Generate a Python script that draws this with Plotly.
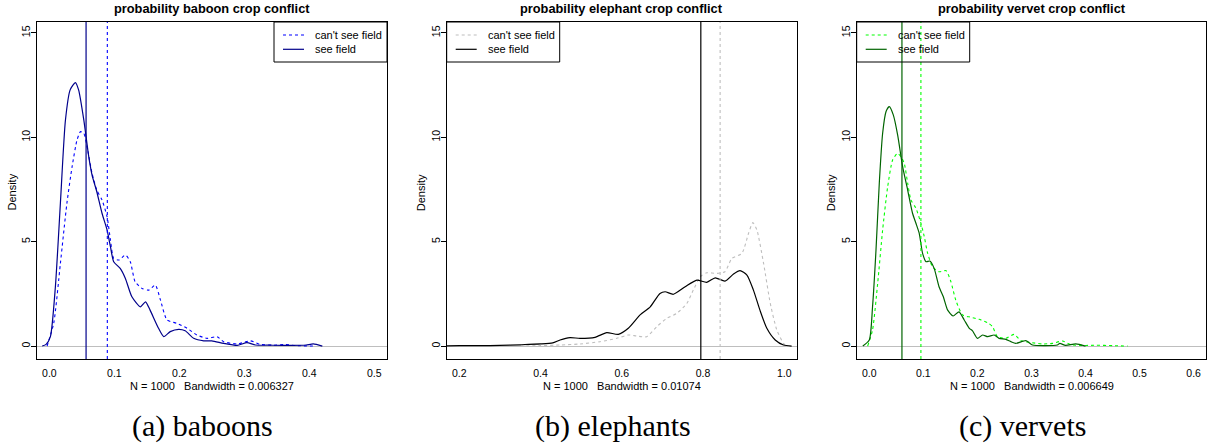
import plotly.graph_objects as go

W, H = 1207, 446

# ---------------- data ----------------
titles = ["probability baboon crop conflict",
          "probability elephant crop conflict",
          "probability vervet crop conflict"]
bandwidth_notes = ["N = 1000\u00a0\u00a0\u00a0Bandwidth = 0.006327",
                   "N = 1000\u00a0\u00a0\u00a0Bandwidth = 0.01074",
                   "N = 1000\u00a0\u00a0\u00a0Bandwidth = 0.006649"]
captions = ["(a) baboons", "(b) elephants", "(c) vervets"]
legend_labels = ["can't see field", "see field"]

baboon_see_x = [-0.011, -0.005, 0.0016, 0.0093, 0.017, 0.0247, 0.032, 0.040, 0.045, 0.053, 0.0606,
                0.0657, 0.073, 0.081, 0.0888, 0.094, 0.099, 0.109, 0.117, 0.127, 0.140, 0.148,
                0.155, 0.168, 0.176, 0.186, 0.199, 0.209, 0.222, 0.2375, 0.25, 0.268, 0.289,
                0.304, 0.317, 0.34, 0.37, 0.395, 0.406, 0.42]
baboon_see_y = [0, 0.08, 0.45, 2.84, 6.85, 10.8, 12.27, 12.62, 12.27, 10.83, 9.07,
                8.19, 7.39, 6.36, 5.56, 4.76, 4.04, 3.72, 3.24, 2.36, 1.88, 2.12,
                1.72, 0.85, 0.45, 0.69, 0.80, 0.73, 0.37, 0.25, 0.25, 0.13, 0.03,
                0.16, 0.05, 0.04, 0.03, 0.05, 0.1, 0.0]
baboon_cant_x = [-0.0035, 0.0067, 0.017, 0.027, 0.035, 0.0426, 0.048, 0.053, 0.058, 0.0657,
                 0.073, 0.081, 0.0888, 0.094, 0.099, 0.107, 0.117, 0.1245, 0.132, 0.1426,
                 0.153, 0.163, 0.171, 0.181, 0.196, 0.212, 0.227, 0.2426, 0.258, 0.268,
                 0.289, 0.309, 0.324, 0.345, 0.3625, 0.38, 0.41]
baboon_cant_y = [0, 1.09, 3.96, 6.84, 8.59, 9.87, 10.27, 10.19, 9.55, 8.27,
                 7.47, 7.0, 6.2, 5.08, 4.2, 4.12, 4.36, 4.04, 3.08, 2.76,
                 2.68, 2.92, 2.2, 1.25, 1.09, 0.85, 0.53, 0.37, 0.45, 0.21,
                 0.1, 0.25, 0.08, 0.04, 0.07, 0.02, 0.0]

elephant_see_x = [0.169, 0.2, 0.25, 0.3, 0.35, 0.4, 0.43, 0.448, 0.4725, 0.497, 0.534, 0.563,
                  0.5916, 0.616, 0.645, 0.67, 0.694, 0.7066, 0.727, 0.756, 0.7847, 0.809,
                  0.83, 0.854, 0.875, 0.891, 0.908, 0.924, 0.94, 0.957, 0.9776, 0.998, 1.018]
elephant_see_y = [0.01, 0.02, 0.02, 0.03, 0.06, 0.1, 0.15, 0.29, 0.40, 0.37, 0.42, 0.64,
                  0.56, 0.85, 1.49, 1.88, 2.52, 2.6, 2.48, 2.84, 3.16, 3.05,
                  3.27, 3.11, 3.45, 3.61, 3.4, 2.68, 1.72, 0.85, 0.29, 0.05, 0.0]
elephant_cant_x = [0.35, 0.4, 0.448, 0.497, 0.5466, 0.5877, 0.616, 0.637, 0.661, 0.686, 0.711,
                   0.7355, 0.760, 0.776, 0.793, 0.809, 0.834, 0.854, 0.871, 0.8956, 0.912,
                   0.9226, 0.9325, 0.949, 0.9655, 0.9816, 0.998, 1.006]
elephant_cant_y = [0, 0.02, 0.05, 0.1, 0.21, 0.37, 0.53, 0.48, 0.45, 0.93, 1.33,
                   1.57, 2.04, 2.68, 3.32, 3.51, 3.48, 3.56, 4.2, 4.44, 5.4,
                   5.91, 5.56, 3.96, 2.04, 0.77, 0.13, 0.0]

vervet_see_x = [-0.012, 0, 0.006, 0.0124, 0.0185, 0.0247, 0.031, 0.037, 0.0444, 0.0525, 0.0617,
                0.071, 0.080, 0.0863, 0.0924, 0.0986, 0.105, 0.112, 0.120, 0.129, 0.137, 0.145,
                0.155, 0.166, 0.1756, 0.185, 0.191, 0.2, 0.2096, 0.219, 0.231, 0.240, 0.2527,
                0.262, 0.271, 0.2897, 0.302, 0.323, 0.348, 0.3525, 0.363, 0.382, 0.4]
vervet_see_y = [0, 0.29, 1.88, 4.6, 7.8, 10.19, 11.23, 11.47, 11.07, 10.1, 8.59,
                7.47, 6.36, 5.88, 5.4, 4.44, 4.04, 4.07, 3.72, 2.84, 2.36, 1.72,
                1.44, 1.64, 1.25, 0.85, 0.73, 0.37, 0.53, 0.45, 0.53, 0.37, 0.32,
                0.21, 0.13, 0.26, 0.05, 0.02, 0.05, 0.13, 0.03, 0.1, 0.0]
vervet_cant_x = [-0.003, 0.006, 0.0155, 0.0247, 0.034, 0.0432, 0.0525, 0.0586, 0.0647, 0.071,
                 0.077, 0.0863, 0.0955, 0.1017, 0.108, 0.117, 0.129, 0.142, 0.151, 0.160,
                 0.1726, 0.188, 0.203, 0.219, 0.228, 0.237, 0.2527, 0.268, 0.2805, 0.296,
                 0.321, 0.339, 0.3575, 0.373, 0.40, 0.42, 0.45, 0.478]
vervet_cant_y = [0, 0.77, 3.0, 5.56, 7.63, 8.91, 9.23, 9.07, 8.75, 7.8,
                 7.0, 6.6, 5.88, 5.24, 4.44, 3.8, 3.56, 3.61, 3.08, 2.2,
                 1.49, 1.38, 1.28, 1.12, 0.93, 0.45, 0.37, 0.56, 0.26, 0.18,
                 0.10, 0.13, 0.24, 0.06, 0.03, 0.04, 0.02, 0.0]

# vertical reference lines (see field, can't see field)
vline_see = [0.0565, 0.7945, 0.0604]
vline_cant = [0.0892, 0.842, 0.0955]

x_ticks = [[0.0, 0.1, 0.2, 0.3, 0.4, 0.5],
           [0.2, 0.4, 0.6, 0.8, 1.0],
           [0.0, 0.1, 0.2, 0.3, 0.4, 0.5, 0.6]]
x_tick_text = [["0.0", "0.1", "0.2", "0.3", "0.4", "0.5"],
               ["0.2", "0.4", "0.6", "0.8", "1.0"],
               ["0.0", "0.1", "0.2", "0.3", "0.4", "0.5", "0.6"]]
y_ticks = [0, 5, 10, 15]

# ---------------- styles ----------------
col_see = ["#00008B", "#000000", "#006400"]
col_cant = ["#0000FF", "#BEBEBE", "#00FF00"]
x_ranges = [[-0.019, 0.5195], [0.169, 1.0305], [-0.0233, 0.6235]]
y_range = [-0.62, 15.52]
SANS = "Liberation Sans, Arial, Helvetica, sans-serif"
SERIF = "Liberation Serif, Times New Roman, serif"
DASH = "3px,3px"

# plot boxes in pixels (left, right), top/bottom shared
px_lr = [(37, 387), (446.7, 796.7), (856.7, 1206.3)]
px_top, px_bot = 22, 359
caption_cx = [202.5, 612.5, 1022.5]
legend_right = [True, False, False]

series = [(baboon_cant_x, baboon_cant_y, baboon_see_x, baboon_see_y),
          (elephant_cant_x, elephant_cant_y, elephant_see_x, elephant_see_y),
          (vervet_cant_x, vervet_cant_y, vervet_see_x, vervet_see_y)]

fig = go.Figure()
shapes = []
annotations = []

def py2paper(py):
    return (H - py) / H

for i in range(3):
    n = "" if i == 0 else str(i + 1)
    xa, ya = "x" + n, "y" + n
    cx, cy, sx, sy = series[i]
    fig.add_trace(go.Scatter(x=cx, y=cy, xaxis=xa, yaxis=ya, mode="lines",
                             line=dict(color=col_cant[i], width=1.1, dash=DASH, shape="spline", smoothing=0.6),
                             showlegend=False, hoverinfo="skip"))
    fig.add_trace(go.Scatter(x=sx, y=sy, xaxis=xa, yaxis=ya, mode="lines",
                             line=dict(color=col_see[i], width=1.2, shape="spline", smoothing=0.6),
                             showlegend=False, hoverinfo="skip"))
    l, r = px_lr[i]
    fig.layout["xaxis" + n] = dict(
        domain=[l / W, r / W], anchor=ya, range=x_ranges[i],
        tickvals=x_ticks[i], ticktext=x_tick_text[i],
        ticks="outside", ticklen=4, tickcolor="rgba(0,0,0,0)",
        showgrid=False, zeroline=False, showline=True, mirror=True,
        linecolor="#000000", linewidth=1,
        tickfont=dict(family=SANS, size=10.5, color="#000000"))
    fig.layout["yaxis" + n] = dict(
        domain=[py2paper(px_bot), py2paper(px_top)], anchor=xa, range=y_range,
        tickvals=y_ticks, ticks="outside", ticklen=5, tickcolor="#000000",
        tickangle=-90, ticklabelstandoff=-3, showgrid=False, zeroline=True, zerolinecolor="#BEBEBE",
        zerolinewidth=1, showline=True, mirror=True, linecolor="#000000", linewidth=1,
        tickfont=dict(family=SANS, size=10.5, color="#000000"))

    # vertical lines at data values
    shapes.append(dict(type="line", xref=xa, yref=ya + " domain", x0=vline_see[i], x1=vline_see[i],
                       y0=0, y1=1, line=dict(color=col_see[i], width=1.2)))
    shapes.append(dict(type="line", xref=xa, yref=ya + " domain", x0=vline_cant[i], x1=vline_cant[i],
                       y0=0, y1=1, line=dict(color=col_cant[i], width=1.1, dash=DASH)))

    # legend (drawn in pixel offsets relative to the plot box)
    pw = r - l
    ph = px_bot - px_top
    box_w, box_h = 113, 40
    bl = (pw - box_w) if legend_right[i] else 0
    dom = xa + " domain"
    ydom = ya + " domain"
    shapes.append(dict(type="rect", xref=dom, yref=ydom, x0=bl / pw, x1=(bl + box_w) / pw,
                       y0=1 - box_h / ph, y1=1, line=dict(color="#000000", width=1),
                       fillcolor="rgba(0,0,0,0)", layer="above"))
    rows = [13, 27.3]
    styles = [(col_cant[i], DASH, 1.1), (col_see[i], "solid", 1.2)]
    for k in range(2):
        yy = 1 - rows[k] / ph
        shapes.append(dict(type="line", xref=dom, yref=ydom, x0=(bl + 9) / pw, x1=(bl + 30) / pw,
                           y0=yy, y1=yy, line=dict(color=styles[k][0], dash=styles[k][1], width=styles[k][2]),
                           layer="above"))
        annotations.append(dict(xref=dom, yref=ydom, x=(bl + 39) / pw, y=yy, text=legend_labels[k],
                                showarrow=False, xanchor="left", yanchor="middle",
                                font=dict(family=SANS, size=11, color="#000000")))

    cxp = (l + r) / 2 / W
    annotations.append(dict(xref="paper", yref="paper", x=cxp, y=py2paper(9), text="<b>" + titles[i] + "</b>",
                            showarrow=False, xanchor="center", yanchor="middle",
                            font=dict(family=SANS, size=12.8, color="#000000")))
    annotations.append(dict(xref="paper", yref="paper", x=cxp, y=py2paper(386), text=bandwidth_notes[i],
                            showarrow=False, xanchor="center", yanchor="middle",
                            font=dict(family=SANS, size=11, color="#000000")))
    annotations.append(dict(xref="paper", yref="paper", x=(l - 26) / W, y=py2paper((px_top + px_bot) / 2 + 2),
                            text="Density", textangle=-90, showarrow=False, xanchor="center", yanchor="middle",
                            font=dict(family=SANS, size=11, color="#000000")))
    annotations.append(dict(xref="paper", yref="paper", x=caption_cx[i] / W, y=py2paper(426), text=captions[i],
                            showarrow=False, xanchor="center", yanchor="middle",
                            font=dict(family=SERIF, size=30, color="#000000")))

fig.update_layout(width=W, height=H, margin=dict(l=0, r=0, t=0, b=0), autosize=False,
                  paper_bgcolor="#FFFFFF", plot_bgcolor="#FFFFFF",
                  shapes=shapes, annotations=annotations, showlegend=False)

fig.write_html("out.html")
